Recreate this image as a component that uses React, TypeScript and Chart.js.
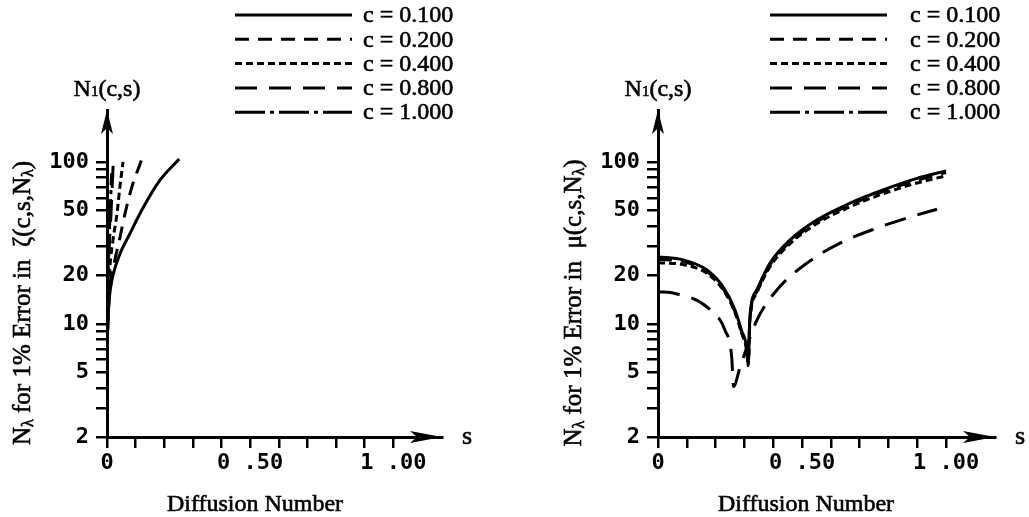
import React, { useEffect, useRef } from 'react';
import { Chart, registerables } from 'chart.js';

Chart.register(...registerables);

// ---------- data ----------
const seriesLabels = ['c = 0.100', 'c = 0.200', 'c = 0.400', 'c = 0.800', 'c = 1.000'];
const dashPatterns: number[][] = [[], [14, 9], [7, 4], [22, 12], [30, 5, 4, 5]];

const yTickValues = [2, 3, 4, 5, 6, 7, 8, 9, 10, 20, 30, 40, 50, 60, 70, 80, 90, 100];
const yLabelledTicks = [2, 5, 10, 20, 50, 100];
const xTickValues = [0, 0.1, 0.2, 0.3, 0.4, 0.5, 0.6, 0.7, 0.8, 0.9, 1.0];
const xLabelValues = [0, 0.5, 1.0];
const xLabelTexts = ['0', '0 .50', '1 .00'];

// Left panel: N_lambda for 1% error in zeta(c,s,N_lambda)
const zetaS_c010 = [0.002, 0.006, 0.012, 0.021, 0.045, 0.08, 0.126, 0.185, 0.252];
const zetaN_c010 = [9, 13, 16.5, 20, 27, 36, 52, 77, 104];
const zetaS_c020 = [0.002, 0.006, 0.015, 0.028, 0.045, 0.063, 0.087, 0.12];
const zetaN_c020 = [9, 13, 19, 25, 34, 48, 70, 102];
const zetaS_c040 = [0.002, 0.005, 0.01, 0.021, 0.035, 0.045, 0.056];
const zetaN_c040 = [9, 14, 22, 33, 48, 70, 100];
const zetaS_c080 = [0.002, 0.005, 0.009, 0.014, 0.018, 0.022];
const zetaN_c080 = [10, 22, 33, 48, 70, 100];
const zetaS_c100 = [0.001, 0.004, 0.007, 0.011, 0.014, 0.016];
const zetaN_c100 = [11, 22, 33, 48, 68, 85];

// Right panel: N_lambda for 1% error in mu(c,s,N_lambda)
const muS_c010 = [0, 0.087, 0.17, 0.226, 0.267, 0.29, 0.309, 0.313, 0.319, 0.343, 0.389, 0.458, 0.551, 0.667, 0.781, 0.899, 1.0];
const muN_c010 = [25.9, 24.8, 21.5, 16.9, 12.2, 9.1, 6.9, 5.6, 11.0, 16.2, 23.7, 32.9, 43.7, 55.6, 67, 79, 88];
const muS_c020 = [0, 0.087, 0.17, 0.226, 0.267, 0.29, 0.309, 0.313, 0.319, 0.343, 0.389, 0.458, 0.551, 0.667, 0.781, 0.899, 1.0];
const muN_c020 = [25.0, 24.2, 21.0, 16.5, 11.9, 8.9, 6.7, 5.5, 10.7, 15.8, 23.2, 32.0, 42.6, 54.3, 65.5, 77, 86];
const muS_c040 = [0, 0.087, 0.17, 0.226, 0.267, 0.29, 0.309, 0.313, 0.319, 0.343, 0.389, 0.458, 0.551, 0.667, 0.781, 0.899, 1.0];
const muN_c040 = [23.8, 23.2, 20.5, 16.2, 11.8, 8.8, 6.6, 5.5, 10.4, 15.5, 22.5, 31.2, 41.5, 52.8, 63.5, 74, 82];
const muS_c080 = [0, 0.059, 0.17, 0.233, 0.256, 0.262, 0.285, 0.343, 0.413, 0.517, 0.632, 0.76, 0.875, 0.969];
const muN_c080 = [15.8, 15.4, 12.7, 9.1, 6.2, 4.1, 5.4, 10.5, 16.2, 23.7, 31.5, 39, 45.6, 51];
const muS_c100: number[] = [];
const muN_c100: number[] = [];

const SERIF = '"Liberation Serif", "Times New Roman", serif';
const MONO = '"DejaVu Sans Mono", monospace';

type Part = { t: string; size: number; dy?: number };

function heavyText(ctx: CanvasRenderingContext2D, t: string, x: number, y: number) {
  ctx.fillText(t, x, y);
  ctx.lineWidth = 0.6;
  ctx.strokeStyle = '#000';
  ctx.strokeText(t, x, y);
}

function drawRich(ctx: CanvasRenderingContext2D, parts: Part[], cx: number, cy: number, rotate: boolean, base: number) {
  ctx.save();
  ctx.translate(cx, cy);
  if (rotate) ctx.rotate(-Math.PI / 2);
  ctx.textAlign = 'left';
  ctx.textBaseline = 'alphabetic';
  ctx.fillStyle = '#000';
  const widths = parts.map((p) => {
    ctx.font = `${p.size}px ${SERIF}`;
    return ctx.measureText(p.t).width;
  });
  const total = widths.reduce((a, b) => a + b, 0);
  let x = -total / 2;
  parts.forEach((p, i) => {
    ctx.font = `${p.size}px ${SERIF}`;
    heavyText(ctx, p.t, x, base + (p.dy || 0));
    x += widths[i];
  });
  ctx.restore();
}

function makeOverlay(panel: any) {
  return {
    id: 'overlay',
    afterDraw(chart: any) {
      const ctx: CanvasRenderingContext2D = chart.ctx;
      const ca = chart.chartArea;
      ctx.save();
      ctx.fillStyle = '#000';
      // x arrow head
      const ax = ca.right;
      const ay = ca.bottom;
      ctx.beginPath();
      ctx.moveTo(ax, ay);
      ctx.lineTo(ax - 32, ay - 6);
      ctx.lineTo(ax - 25, ay);
      ctx.lineTo(ax - 32, ay + 6);
      ctx.closePath();
      ctx.fill();
      // y arrow head
      const bx = ca.left;
      const by = ca.top;
      ctx.beginPath();
      ctx.moveTo(bx, by);
      ctx.lineTo(bx - 6, by + 24);
      ctx.lineTo(bx, by + 18);
      ctx.lineTo(bx + 6, by + 24);
      ctx.closePath();
      ctx.fill();

      // legend
      chart.data.datasets.forEach((ds: any, i: number) => {
        const y = panel.legendTop + i * panel.legendStep;
        ctx.save();
        ctx.strokeStyle = '#000';
        ctx.lineWidth = 3;
        ctx.setLineDash(ds.borderDash || []);
        ctx.beginPath();
        ctx.moveTo(panel.legendX0, y);
        ctx.lineTo(panel.legendX1, y);
        ctx.stroke();
        ctx.restore();
        ctx.save();
        ctx.font = `24px ${SERIF}`;
        ctx.textAlign = 'left';
        ctx.textBaseline = 'middle';
        ctx.fillStyle = '#000';
        heavyText(ctx, ds.label, panel.legendTextX, y + 1);
        ctx.restore();
      });

      // "s" at the end of x axis
      ctx.save();
      ctx.font = `26px ${SERIF}`;
      ctx.textAlign = 'left';
      ctx.textBaseline = 'middle';
      heavyText(ctx, 's', ca.right + 20, ca.bottom);
      ctx.restore();

      // N1(c,s) above y axis
      drawRich(ctx, [
        { t: 'N', size: 24 },
        { t: '1', size: 15 },
        { t: '(c,s)', size: 24 },
      ], ca.left, 88, false, 8);

      // x axis title
      drawRich(ctx, [{ t: 'Diffusion Number', size: 24 }], ca.left + 148, 503, false, 8);

      // y axis title (rotated)
      drawRich(ctx, [
        { t: 'N', size: 25 },
        { t: 'λ', size: 16, dy: 3 },
        { t: ' for 1% Error in  ' + panel.symbol + '(c,s,N', size: 25 },
        { t: 'λ', size: 16, dy: 3 },
        { t: ')', size: 25 },
      ], ca.left - 85, 303, true, 8);

      ctx.restore();
    },
  };
}

function buildConfig(panel: any) {
  return {
    type: 'line',
    data: {
      datasets: panel.series.map((s: any, i: number) => ({
        label: seriesLabels[i],
        data: s.x.map((xv: number, j: number) => ({ x: xv, y: s.y[j] })),
        borderColor: '#000',
        backgroundColor: '#000',
        borderWidth: 3,
        borderDash: dashPatterns[i],
        borderCapStyle: 'butt',
        pointRadius: 0,
        pointHoverRadius: 0,
        fill: false,
        cubicInterpolationMode: 'monotone',
      })),
    },
    options: {
      responsive: false,
      animation: false,
      events: [],
      layout: { padding: { left: 0, top: 110, right: panel.rightPad, bottom: 0 } },
      plugins: {
        legend: { display: false },
        tooltip: { enabled: false },
        title: { display: false },
      },
      scales: {
        x: {
          type: 'linear',
          min: 0,
          max: 1.17,
          afterBuildTicks: (sc: any) => {
            sc.ticks = xTickValues.map((v) => ({ value: v }));
          },
          afterFit: (sc: any) => {
            sc.height = 80;
          },
          ticks: {
            autoSkip: false,
            maxRotation: 0,
            padding: 2,
            color: '#000',
            font: { family: MONO, size: 22, weight: 'bold' },
            callback: (v: number) => {
              const k = xLabelValues.findIndex((lv) => Math.abs(lv - v) < 1e-9);
              return k >= 0 ? xLabelTexts[k] : '';
            },
          },
          grid: { display: true, drawOnChartArea: false, drawTicks: true, tickLength: 11, lineWidth: 2.5, color: '#000' },
          border: { display: true, color: '#000', width: 3 },
        },
        y: {
          type: 'logarithmic',
          min: 2,
          max: 209,
          afterBuildTicks: (sc: any) => {
            sc.ticks = yTickValues.map((v) => ({ value: v }));
          },
          afterFit: (sc: any) => {
            sc.width = panel.axisLeft;
          },
          ticks: {
            autoSkip: false,
            padding: 7,
            color: '#000',
            font: { family: MONO, size: 22, weight: 'bold' },
            callback: (v: number) => (yLabelledTicks.includes(v) ? String(v) : ''),
          },
          grid: { display: true, drawOnChartArea: false, drawTicks: true, tickLength: 11, lineWidth: 2.5, color: '#000' },
          border: { display: true, color: '#000', width: 3 },
        },
      },
    },
    plugins: [makeOverlay(panel)],
  };
}

const leftPanel = {
  symbol: 'ζ',
  axisLeft: 107,
  rightPad: 72,
  legendTop: 15,
  legendStep: 24.3,
  legendX0: 235,
  legendX1: 352,
  legendTextX: 363,
  series: [
    { x: zetaS_c010, y: zetaN_c010 },
    { x: zetaS_c020, y: zetaN_c020 },
    { x: zetaS_c040, y: zetaN_c040 },
    { x: zetaS_c080, y: zetaN_c080 },
    { x: zetaS_c100, y: zetaN_c100 },
  ],
};

const rightPanel = {
  symbol: 'μ',
  axisLeft: 144,
  rightPad: 34,
  legendTop: 15,
  legendStep: 24.3,
  legendX0: 256,
  legendX1: 373,
  legendTextX: 396,
  series: [
    { x: muS_c010, y: muN_c010 },
    { x: muS_c020, y: muN_c020 },
    { x: muS_c040, y: muN_c040 },
    { x: muS_c080, y: muN_c080 },
    { x: muS_c100, y: muN_c100 },
  ],
};

function Panel({ panel, left, width }: { panel: any; left: number; width: number }) {
  const ref = useRef<HTMLCanvasElement | null>(null);
  useEffect(() => {
    if (!ref.current) return;
    const chart = new Chart(ref.current, buildConfig(panel) as any);
    return () => chart.destroy();
  }, [panel]);
  return (
    <canvas
      ref={ref}
      width={width}
      height={517}
      style={{ position: 'absolute', left, top: 0, width, height: 517 }}
    />
  );
}

export default function App() {
  return (
    <div style={{ position: 'fixed', left: 0, top: 0, width: 1029, height: 517, background: '#fff', overflow: 'hidden' }}>
      <Panel panel={leftPanel} left={0} width={514} />
      <Panel panel={rightPanel} left={514} width={515} />
    </div>
  );
}
